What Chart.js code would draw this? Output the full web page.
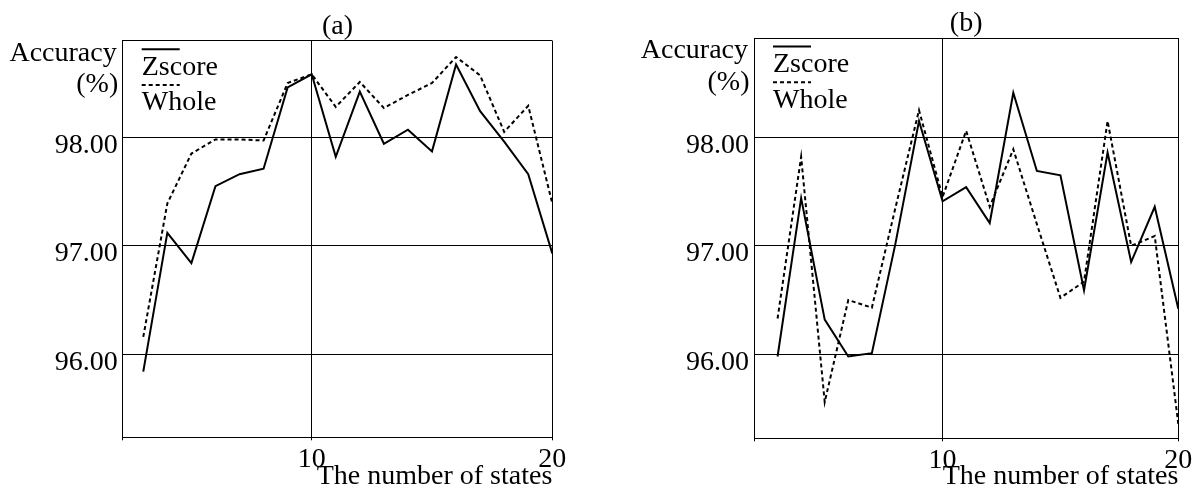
<!DOCTYPE html>
<html lang="en">
<head>
<meta charset="UTF-8">
<title>Accuracy vs number of states</title>
<script src="https://cdn.jsdelivr.net/npm/chart.js@4.4.1/dist/chart.umd.min.js"></script>
<style>
  body { margin: 0; background: #fff; }
  canvas { position: absolute; top: 0; }
</style>
</head>
<body>
<canvas id="chartA" width="600" height="495" style="left:0px"></canvas>
<canvas id="chartB" width="598" height="495" style="left:600px"></canvas>
<script>
// data
const states = [3, 4, 5, 6, 7, 8, 9, 10, 11, 12, 13, 14, 15, 16, 17, 18, 19, 20];
const zscoreA = [95.84, 97.12, 96.84, 97.55, 97.66, 97.71, 98.46, 98.58, 97.82, 98.42, 97.94, 98.07, 97.87, 98.67, 98.24, 97.96, 97.66, 96.93];
const wholeA  = [96.16, 97.39, 97.85, 97.98, 97.98, 97.97, 98.50, 98.58, 98.28, 98.51, 98.27, 98.39, 98.50, 98.74, 98.57, 98.05, 98.29, 97.39];
const zscoreB = [95.98, 97.44, 96.32, 95.98, 96.01, 97.02, 98.15, 97.41, 97.54, 97.21, 98.41, 97.69, 97.65, 96.59, 97.86, 96.85, 97.36, 96.42];
const wholeB  = [96.33, 97.82, 95.56, 96.50, 96.43, 97.35, 98.25, 97.45, 98.06, 97.36, 97.89, 97.20, 96.52, 96.67, 98.15, 97.00, 97.09, 95.36];
const xTickLabels = [10, 20];
const yTickLabels = [96, 97, 98];

const FONT = '"Liberation Serif", "Times New Roman", serif';
const FS = 28;
Chart.defaults.font.family = FONT;
Chart.defaults.font.size = FS;
Chart.defaults.font.weight = 'normal';
Chart.defaults.color = '#000';

// "Accuracy (%)" and the legend with the line sample above the name
const sideText = {
  id: 'sideText',
  afterDraw(chart) {
    const ctx = chart.ctx, a = chart.chartArea;
    ctx.save();
    ctx.font = FS + 'px ' + FONT;
    ctx.fillStyle = '#000';
    ctx.textBaseline = 'alphabetic';
    ctx.textAlign = 'right';
    ctx.fillText('Accuracy', a.left - 6, a.top + 20.3);
    ctx.fillText('(%)', a.left - 4.5, a.top + 51.5);
    ctx.textAlign = 'left';
    chart.data.datasets.forEach((ds, i) => {
      const y = a.top + 8.6 + i * 35.7;
      ctx.strokeStyle = '#000';
      ctx.lineWidth = 2;
      ctx.setLineDash(ds.borderDash || []);
      ctx.beginPath();
      ctx.moveTo(a.left + 19, y);
      ctx.lineTo(a.left + 57, y);
      ctx.stroke();
      ctx.setLineDash([]);
      ctx.fillText(ds.label, a.left + 19, y + 25.4);
    });
    ctx.restore();
  }
};

function makeChart(id, title, zs, wh, g) {
  return new Chart(document.getElementById(id), {
    type: 'line',
    data: {
      datasets: [
        { label: 'Zscore', data: states.map((s, i) => ({x: s, y: zs[i]})),
          borderColor: '#000', borderWidth: 2, pointRadius: 0, tension: 0, fill: false },
        { label: 'Whole', data: states.map((s, i) => ({x: s, y: wh[i]})),
          borderColor: '#000', borderWidth: 2, borderDash: [4, 3], pointRadius: 0, tension: 0, fill: false }
      ]
    },
    options: {
      responsive: false,
      animation: false,
      layout: { padding: { left: 0, right: g.padRight, top: 0, bottom: 0 } },
      plugins: {
        legend: { display: false },
        tooltip: { enabled: false },
        title: {
          display: true, text: title, fullSize: false, color: '#000',
          font: { size: FS, family: FONT, weight: 'normal', lineHeight: 1 },
          padding: { top: g.top - FS, bottom: 0 }
        }
      },
      scales: {
        x: {
          type: 'linear', min: g.xMin, max: 20,
          afterBuildTicks: s => { s.ticks = [g.xMin, 10, 20].map(v => ({value: v})); },
          afterFit: s => { s.height = g.xAxisH; s.paddingLeft = 0; s.paddingRight = 0; },
          grid: { color: '#000', lineWidth: 1, drawTicks: true, tickLength: 3 },
          border: { display: true, color: '#000', width: 1 },
          ticks: { autoSkip: false, maxRotation: 0, padding: 3,
                   callback: v => xTickLabels.includes(v) ? String(v) : '' },
          title: { display: true, text: 'The number of states', align: 'end',
                   font: { size: FS, family: FONT }, padding: { top: 0, bottom: 1.8 } }
        },
        y: {
          min: g.yMin, max: g.yMax,
          afterBuildTicks: s => { s.ticks = [g.yMin, 96, 97, 98, g.yMax].map(v => ({value: v})); },
          afterFit: s => { s.width = g.yAxisW; s.paddingTop = 0; s.paddingBottom = 0; },
          grid: { color: '#000', lineWidth: 1, drawTicks: false },
          border: { display: true, color: '#000', width: 1 },
          ticks: { autoSkip: false, padding: 5, labelOffset: 8,
                   callback: v => yTickLabels.includes(v) ? v.toFixed(2) : '' }
        }
      }
    },
    plugins: [sideText]
  });
}

makeChart('chartA', '(a)', zscoreA, wholeA,
  { xMin: 2.145, yMin: 95.235, yMax: 98.89, yAxisW: 122.7, xAxisH: 57.7, padRight: 47.7, top: 40.7 });
makeChart('chartB', '(b)', zscoreB, wholeB,
  { xMin: 2.0, yMin: 95.226, yMax: 98.915, yAxisW: 154, xAxisH: 56.7, padRight: 19.7, top: 38 });
</script>
</body>
</html>
